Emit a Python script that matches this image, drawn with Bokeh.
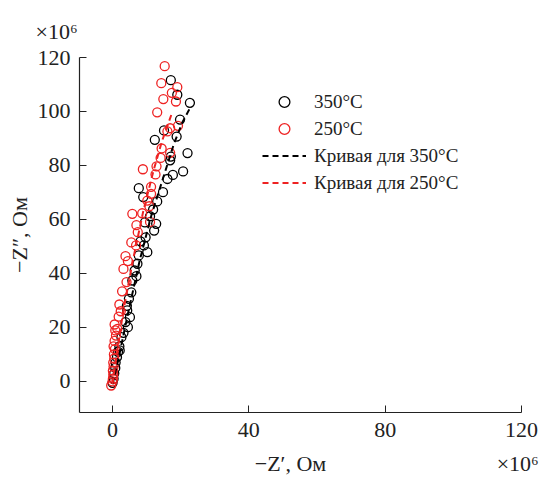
from bokeh.plotting import figure
from bokeh.models import Range1d, FixedTicker, Legend, LegendItem, Title
from bokeh.embed import file_html
from bokeh.resources import INLINE

# ---- data (units of 1e6 Ohm) ----
x350 = [0.0, 0.3, 0.5, 0.8, 0.9, 1.3, 1.6, 2.0, 2.1, 2.6, 3.2, 4.5, 3.8, 5.1, 4.3, 4.2, 4.8, 5.5,
        5.8, 7.0, 6.5, 7.3, 7.7, 10.2, 9.2, 8.2, 9.7, 12.2, 9.5, 12.8, 11.0, 11.9, 13.1, 14.8,
        9.0, 7.7, 16.1, 17.7, 20.7, 16.9, 17.1, 22.0, 18.8, 12.4, 15.1, 19.8, 22.7, 19.0, 17.1]
y350 = [-0.5, 1.0, 3.0, 5.0, 7.0, 9.0, 11.0, 13.0, 11.5, 16.4, 18.0, 20.1, 22.0, 23.8, 26.3, 28.0, 30.6, 33.0,
        37.4, 39.0, 41.1, 43.6, 46.7, 47.9, 50.4, 51.9, 53.4, 55.9, 58.9, 58.4, 61.2, 63.7, 66.7, 70.1,
        68.3, 71.6, 75.0, 76.5, 77.8, 81.9, 83.3, 84.6, 90.7, 89.5, 93.0, 97.0, 103.2, 106.2, 111.6]

x250 = [-0.4, 0.0, 0.1, 0.2, 0.1, 0.3, 0.2, 0.5, 0.4, 0.7, 0.3, 0.6, 1.0, 0.8, 1.4, 0.6, 1.8, 2.4,
        2.0, 2.8, 4.1, 3.2, 4.5, 3.8, 6.9, 5.5, 7.4, 7.0, 11.0, 8.7, 5.8, 10.8, 10.2, 11.3, 11.3,
        12.6, 12.9, 8.9, 14.1, 16.9, 14.4, 16.1, 16.9, 19.2, 13.1, 18.6, 14.9, 17.4, 19.0, 14.3, 15.3]
y250 = [-1.5, 0.0, 1.0, 2.5, 4.0, 5.5, 7.0, 8.5, 10.0, 12.0, 13.0, 15.0, 17.0, 18.9, 19.5, 21.1, 24.0, 26.0,
        28.5, 33.4, 36.8, 41.7, 44.6, 46.4, 50.4, 51.5, 55.3, 57.9, 59.1, 62.3, 62.1, 64.9, 67.0, 69.5, 72.1,
        76.7, 79.7, 78.6, 82.8, 84.7, 86.3, 92.6, 93.8, 94.7, 99.7, 103.7, 104.6, 106.9, 109.0, 110.5, 116.8]

cx350 = [0.0, 2.0, 4.5, 8.0, 11.5, 15.0, 18.0, 20.5, 22.6]
cy350 = [-1.0, 10.0, 25.0, 45.0, 62.0, 76.0, 88.0, 96.0, 101.0]
cx250 = [0.0, 1.0, 3.0, 6.0, 9.0, 12.0, 14.5, 16.2, 17.5]
cy250 = [-1.0, 8.0, 25.0, 45.0, 63.0, 78.0, 89.0, 95.0, 99.7]

xticks = [0, 40, 80, 120]
yticks = [0, 20, 40, 60, 80, 100, 120]

FONT = "Liberation Serif"
INK = "#222222"
NB = "\u00a0"

p = figure(width=543, height=478, output_backend="svg", toolbar_location=None,
           x_range=Range1d(-9.7, 120), y_range=Range1d(-11.5, 120),
           min_border_left=79, min_border_right=22, min_border_top=57, min_border_bottom=66)
p.outline_line_color = None
p.grid.visible = False
p.background_fill_color = "white"

for ax in (p.xaxis[0], p.yaxis[0]):
    ax.major_tick_in = 7
    ax.major_tick_out = 0
    ax.minor_tick_in = 0
    ax.minor_tick_out = 0
    ax.axis_line_color = INK
    ax.major_tick_line_color = INK
    ax.axis_line_width = 1.2
    ax.major_label_text_font = FONT
    ax.major_label_text_font_size = "22px"
    ax.major_label_text_color = INK
    ax.axis_label_text_font = FONT
    ax.axis_label_text_font_size = "22px"
    ax.axis_label_text_font_style = "normal"
    ax.axis_label_text_color = INK

p.xaxis[0].ticker = FixedTicker(ticks=xticks)
p.yaxis[0].ticker = FixedTicker(ticks=yticks)
p.xaxis[0].axis_label = NB * 35 + "\u2212Z\u2032, Ом" + NB * 31 + "×10⁶"
p.yaxis[0].axis_label = "\u2212Z\u2033, Ом"
p.xaxis[0].major_label_standoff = 10
p.yaxis[0].major_label_standoff = 9
p.xaxis[0].axis_label_standoff = 11
p.yaxis[0].axis_label_standoff = 3

r1 = p.scatter(x350, y350, size=9, marker="circle", fill_color=None, line_color="black", line_width=1.3)
r2 = p.scatter(x250, y250, size=9, marker="circle", fill_color=None, line_color="#ee2222", line_width=1.3)
r3 = p.line(cx350, cy350, line_color="black", line_dash="6 4", line_width=2)
r4 = p.line(cx250, cy250, line_color="#ee2222", line_dash="6 4", line_width=2)

legend = Legend(items=[
    LegendItem(label="350°C", renderers=[r1]),
    LegendItem(label="250°C", renderers=[r2]),
    LegendItem(label="Кривая для 350°C", renderers=[r3]),
    LegendItem(label="Кривая для 250°C", renderers=[r4]),
], location=(183, 216), padding=0, margin=0, spacing=0,
    glyph_width=44, glyph_height=27, label_height=27, label_standoff=8,
    label_text_font=FONT, label_text_font_size="19px", label_text_color=INK,
    border_line_color=None, background_fill_alpha=0)
p.add_layout(legend, "center")

p.add_layout(Title(text="×10⁶", align="left", offset=-44, standoff=27,
                   text_font=FONT, text_font_size="22px", text_font_style="normal",
                   text_color=INK), "above")

open("out.html", "w").write(file_html(p, INLINE))
